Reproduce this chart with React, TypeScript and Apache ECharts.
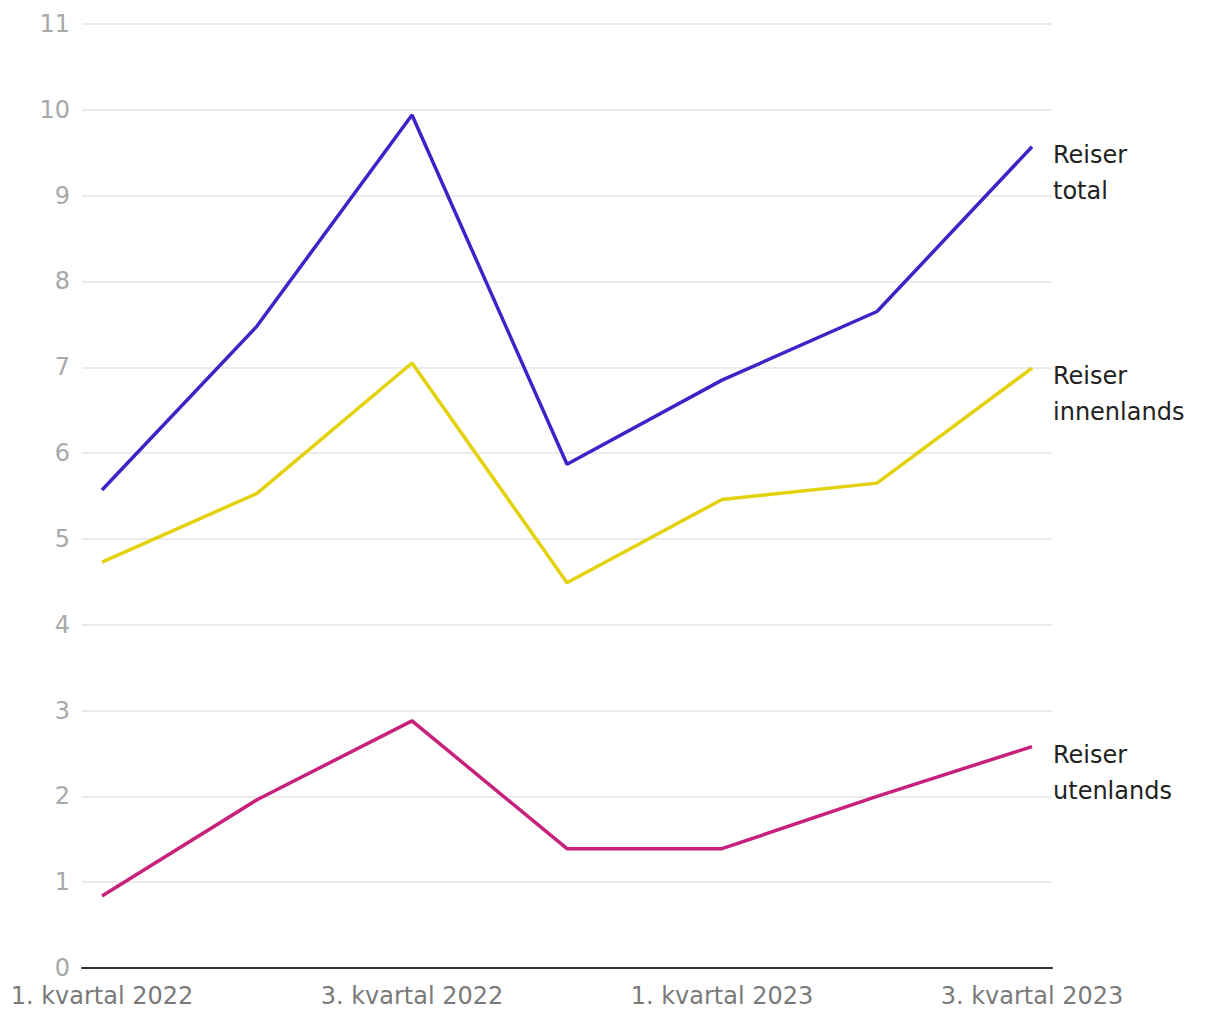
import React, { useEffect, useRef } from "react";
import * as echarts from "echarts";

const categories = [
  "1. kvartal 2022",
  "2. kvartal 2022",
  "3. kvartal 2022",
  "4. kvartal 2022",
  "1. kvartal 2023",
  "2. kvartal 2023",
  "3. kvartal 2023",
];
const labelledTicks = [0, 2, 4, 6];
const reiserTotal = [5.57, 7.48, 9.94, 5.87, 6.85, 7.65, 9.57];
const reiserInnenlands = [4.73, 5.53, 7.05, 4.49, 5.46, 5.65, 6.99];
const reiserUtenlands = [0.84, 1.96, 2.88, 1.39, 1.39, 2.0, 2.58];
const seriesNames = ["Reiser\ntotal", "Reiser\ninnenlands", "Reiser\nutenlands"];
const colors = ["#3d23c8", "#e3d10a", "#c8217c"];

const FONT = "'DejaVu Sans', Inter, sans-serif";

export default function App() {
  const ref = useRef<HTMLDivElement>(null);
  useEffect(() => {
    if (!ref.current) return;
    const chart = echarts.init(ref.current, null, { renderer: "svg" });
    const mk = (name: string, vals: number[], color: string) => ({
      name,
      type: "line",
      data: vals.map((v, i) => [i, v]),
      showSymbol: false,
      symbol: "none",
      lineStyle: { color, width: 3.5 },
      itemStyle: { color },
      endLabel: {
        show: true,
        formatter: name,
        color: "#222",
        fontFamily: FONT,
        fontSize: 24,
        lineHeight: 36,
        align: "left",
        verticalAlign: "middle",
        distance: 21,
        offset: [0, 26],
      },
    });
    chart.setOption({
      animation: false,
      textStyle: { fontFamily: FONT },
      grid: { left: 82, right: 168, top: 24, bottom: 52, containLabel: false },
      xAxis: {
        type: "value",
        min: -0.129,
        max: 6.129,
        splitLine: { show: false },
        axisTick: { show: false },
        axisLine: { show: true, lineStyle: { color: "#333", width: 2 } },
        axisLabel: {
          customValues: labelledTicks,
          formatter: (v: number) => categories[Math.round(v)] ?? "",
          color: "#7a7a7a",
          fontSize: 24,
          fontFamily: FONT,
          margin: 16,
        },
      },
      yAxis: {
        type: "value",
        min: 0,
        max: 11,
        interval: 1,
        axisLine: { show: false },
        axisTick: { show: false },
        splitLine: { lineStyle: { color: "#e4e4e4", width: 1.5 } },
        axisLabel: { color: "#a8a8a8", fontSize: 24, fontFamily: FONT, margin: 12 },
      },
      series: [
        mk(seriesNames[0], reiserTotal, colors[0]),
        mk(seriesNames[1], reiserInnenlands, colors[1]),
        mk(seriesNames[2], reiserUtenlands, colors[2]),
      ],
    });
    return () => chart.dispose();
  }, []);
  return (
    <div
      ref={ref}
      style={{ position: "fixed", left: 0, top: 0, width: 1220, height: 1020, background: "#fff" }}
    />
  );
}
